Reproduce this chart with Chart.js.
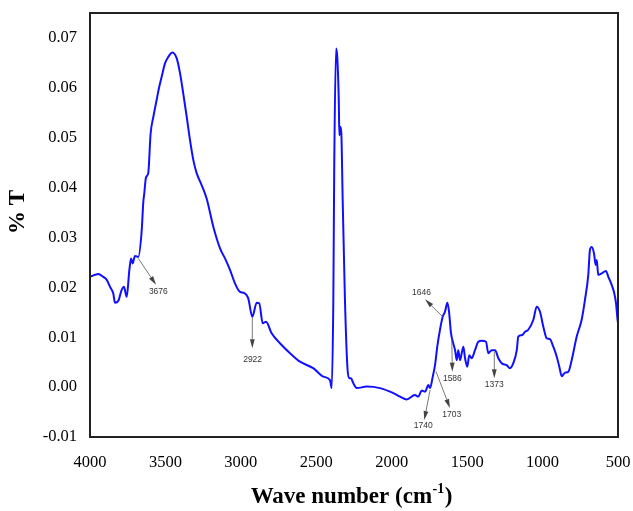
<!DOCTYPE html>
<html>
<head>
<meta charset="utf-8">
<title>FTIR spectrum</title>
<script src="https://cdn.jsdelivr.net/npm/chart.js@4.4.1/dist/chart.umd.min.js"></script>
<style>
  html, body { margin: 0; padding: 0; background: #fff; }
  #wrap { width: 633px; height: 511px; }
</style>
</head>
<body>
<div id="wrap"><canvas id="spectrum" width="633" height="511"></canvas></div>
<script>
(function() {
  'use strict';

  // Spectrum (wave number in cm-1, %T)
  var WAVENUMBER = [
    4000, 3945, 3912, 3889, 3867, 3846, 3834, 3812, 3790, 3775,
    3757, 3739, 3728, 3717, 3702, 3680, 3657, 3647, 3640, 3629,
    3614, 3598, 3580, 3558, 3541, 3525, 3503, 3481, 3454, 3425,
    3403, 3382, 3359, 3337, 3315, 3293, 3260, 3226, 3183, 3138,
    3105, 3072, 3039, 3006, 2979, 2951, 2924, 2895, 2878, 2855,
    2833, 2796, 2741, 2674, 2608, 2520, 2453, 2409, 2398, 2387,
    2381, 2369, 2361, 2351, 2347, 2341, 2334, 2325, 2310, 2294,
    2283, 2270, 2255, 2232, 2166, 2078, 1989, 1945, 1901, 1846,
    1824, 1801, 1779, 1757, 1746, 1728, 1713, 1698, 1680, 1662,
    1647, 1631, 1620, 1607, 1592, 1580, 1569, 1559, 1547, 1536,
    1525, 1514, 1499, 1486, 1470, 1448, 1426, 1403, 1375, 1360,
    1337, 1315, 1293, 1271, 1238, 1216, 1194, 1171, 1161, 1138,
    1116, 1095, 1061, 1039, 1017, 995, 973, 951, 929, 906,
    889, 873, 851, 829, 807, 774, 741, 719, 697, 686,
    674, 659, 648, 641, 631, 608, 580, 564, 542, 527,
    513, 505, 500
  ];
  var TRANSMITTANCE = [
    0.0221, 0.0227, 0.0221, 0.0215, 0.0201, 0.0188, 0.0169, 0.0173, 0.0195, 0.0201,
    0.0181, 0.0235, 0.0258, 0.0248, 0.0263, 0.0261, 0.0315, 0.0370, 0.0389, 0.0420,
    0.0429, 0.0509, 0.0542, 0.0576, 0.0602, 0.0622, 0.0649, 0.0662, 0.0671, 0.0659,
    0.0629, 0.0589, 0.0542, 0.0495, 0.0455, 0.0429, 0.0405, 0.0377, 0.0322, 0.0278,
    0.0258, 0.0235, 0.0208, 0.0191, 0.0189, 0.0178, 0.0141, 0.0169, 0.0168, 0.0128,
    0.0131, 0.0108, 0.0088, 0.0068, 0.0051, 0.0038, 0.0021, 0.0014, -0.0002, 0.0175,
    0.0442, 0.0679, 0.0662, 0.0576, 0.0505, 0.0522, 0.0509, 0.0375, 0.0175, 0.0041,
    0.0018, 0.0018, 0.0008, -0.0002, 0.0001, -0.0002, -0.0012, -0.0019, -0.0025, -0.0016,
    -0.0019, -0.0007, -0.0009, 0.0004, -0.0002, 0.0021, 0.0044, 0.0081, 0.0115, 0.0141,
    0.0151, 0.0169, 0.0151, 0.0108, 0.0088, 0.0074, 0.0054, 0.0074, 0.0054, 0.0068,
    0.0081, 0.0058, 0.0041, 0.0064, 0.0058, 0.0074, 0.0091, 0.0093, 0.0091, 0.0068,
    0.0074, 0.0074, 0.0058, 0.0048, 0.0044, 0.0038, 0.0048, 0.0074, 0.0101, 0.0104,
    0.0111, 0.0115, 0.0135, 0.0161, 0.0151, 0.0121, 0.0098, 0.0096, 0.0081, 0.0061,
    0.0041, 0.0022, 0.0029, 0.0031, 0.0054, 0.0101, 0.0135, 0.0175, 0.0225, 0.0275,
    0.0281, 0.0268, 0.0245, 0.0255, 0.0225, 0.0228, 0.0233, 0.0221, 0.0205, 0.0191,
    0.0168, 0.0141, 0.0128
  ];

  var X_TICKS = [4000, 3500, 3000, 2500, 2000, 1500, 1000, 500];
  var Y_TICKS = [-0.01, 0, 0.01, 0.02, 0.03, 0.04, 0.05, 0.06, 0.07];

  var PEAK_LABELS = ['3676', '2922', '1646', '1586', '1373', '1740', '1703'];

  // arrow start on the curve, arrow head, label centre (all in data units)
  var peakArrows = {
    '3676': { from: [3680, 0.0258], to: [3562, 0.0205], label: [3547, 0.0192] },
    '2922': { from: [2924, 0.0139], to: [2924, 0.0078], label: [2922, 0.0056] },
    '1646': { from: [1662, 0.0141], to: [1779, 0.0176], label: [1803, 0.0189] },
    '1586': { from: [1602, 0.0098], to: [1598, 0.0031], label: [1598, 0.0017] },
    '1373': { from: [1320, 0.0071], to: [1320, 0.0018], label: [1320, 0.0005] },
    '1740': { from: [1746, -0.0006], to: [1784, -0.0066], label: [1791, -0.0077] },
    '1703': { from: [1706, 0.0031], to: [1614, -0.0042], label: [1602, -0.0056] }
  };

  var SERIF = '"Liberation Serif", "Times New Roman", Times, serif';
  var SANS = '"Liberation Sans", Arial, Helvetica, sans-serif';

  function buildPoints() {
    var pts = [];
    for (var i = 0; i < WAVENUMBER.length; i++) {
      pts.push({ x: WAVENUMBER[i], y: TRANSMITTANCE[i] });
    }
    return pts;
  }

  function drawArrow(ctx, x1, y1, x2, y2) {
    var ang = Math.atan2(y2 - y1, x2 - x1);
    var len = 9, half = 2.4;
    var bx = x2 - len * Math.cos(ang);
    var by = y2 - len * Math.sin(ang);
    ctx.beginPath();
    ctx.moveTo(x1, y1);
    ctx.lineTo(bx, by);
    ctx.stroke();
    ctx.beginPath();
    ctx.moveTo(x2, y2);
    ctx.lineTo(bx + half * Math.sin(ang), by - half * Math.cos(ang));
    ctx.lineTo(bx - half * Math.sin(ang), by + half * Math.cos(ang));
    ctx.closePath();
    ctx.fill();
  }

  var decorations = {
    id: 'decorations',
    afterDraw: function(chart) {
      var ctx = chart.ctx;
      var area = chart.chartArea;
      var xs = chart.scales.x, ys = chart.scales.y;

      ctx.save();

      // frame
      ctx.strokeStyle = '#222';
      ctx.lineWidth = 2;
      ctx.strokeRect(area.left, area.top, area.right - area.left, area.bottom - area.top);

      // peak arrows and labels
      ctx.strokeStyle = '#555';
      ctx.lineWidth = 0.8;
      ctx.font = '8.5px ' + SANS;
      ctx.textAlign = 'center';
      ctx.textBaseline = 'middle';
      PEAK_LABELS.forEach(function(name) {
        var a = peakArrows[name];
        ctx.fillStyle = '#444';
        drawArrow(ctx,
          xs.getPixelForValue(a.from[0]), ys.getPixelForValue(a.from[1]),
          xs.getPixelForValue(a.to[0]), ys.getPixelForValue(a.to[1]));
        ctx.fillStyle = '#333';
        ctx.fillText(name, xs.getPixelForValue(a.label[0]), ys.getPixelForValue(a.label[1]));
      });

      // x axis title with superscript
      ctx.fillStyle = '#000';
      ctx.textAlign = 'left';
      ctx.textBaseline = 'alphabetic';
      var main = 'Wave number (cm', sup = '-1', close = ')';
      ctx.font = 'bold 23px ' + SERIF;
      var wMain = ctx.measureText(main).width;
      var wClose = ctx.measureText(close).width;
      ctx.font = 'bold 14px ' + SERIF;
      var wSup = ctx.measureText(sup).width;
      var cx = (area.left + area.right) / 2 - 3;
      var x0 = cx - (wMain + wSup + wClose) / 2;
      var base = 503;
      ctx.font = 'bold 23px ' + SERIF;
      ctx.fillText(main, x0, base);
      ctx.font = 'bold 14px ' + SERIF;
      ctx.fillText(sup, x0 + wMain + 0.5, base - 10);
      ctx.font = 'bold 23px ' + SERIF;
      ctx.fillText(close, x0 + wMain + wSup + 1, base);

      // y axis title
      ctx.translate(18, 212);
      ctx.rotate(-Math.PI / 2);
      ctx.textAlign = 'center';
      ctx.textBaseline = 'middle';
      ctx.fillText('% T', 0, 0);

      ctx.restore();
    }
  };

  var ctx = document.getElementById('spectrum').getContext('2d');
  new Chart(ctx, {
    type: 'line',
    data: {
      datasets: [{
        data: buildPoints(),
        borderColor: '#1010ff',
        borderWidth: 2,
        pointRadius: 0,
        cubicInterpolationMode: 'monotone',
        fill: false
      }]
    },
    options: {
      responsive: false,
      animation: false,
      layout: { padding: { left: 0, top: 13, right: 15, bottom: 0 } },
      plugins: {
        legend: { display: false },
        tooltip: { enabled: false }
      },
      scales: {
        x: {
          type: 'linear',
          reverse: true,
          min: 500,
          max: 4000,
          grid: { display: false, drawTicks: false },
          border: { display: false },
          afterBuildTicks: function(scale) {
            scale.ticks = X_TICKS.map(function(v) { return { value: v }; });
          },
          afterFit: function(scale) {
            scale.height = 74;
            // labels may overhang the frame, like in the original
            scale.paddingLeft = 0;
            scale.paddingRight = 0;
          },
          ticks: {
            padding: 16,
            maxRotation: 0,
            color: '#000',
            font: { family: SERIF, size: 16.5 },
            callback: function(v) { return String(v); }
          }
        },
        y: {
          min: -0.01,
          max: 0.075,
          grid: { display: false, drawTicks: false },
          border: { display: false },
          afterBuildTicks: function(scale) {
            scale.ticks = Y_TICKS.map(function(v) { return { value: v }; });
          },
          afterFit: function(scale) {
            scale.width = 90;
            scale.paddingTop = 0;
            scale.paddingBottom = 0;
          },
          ticks: {
            padding: 13,
            color: '#000',
            font: { family: SERIF, size: 16.5 },
            callback: function(v) { return Number(v).toFixed(2); }
          }
        }
      }
    },
    plugins: [decorations]
  });
})();
</script>
</body>
</html>
